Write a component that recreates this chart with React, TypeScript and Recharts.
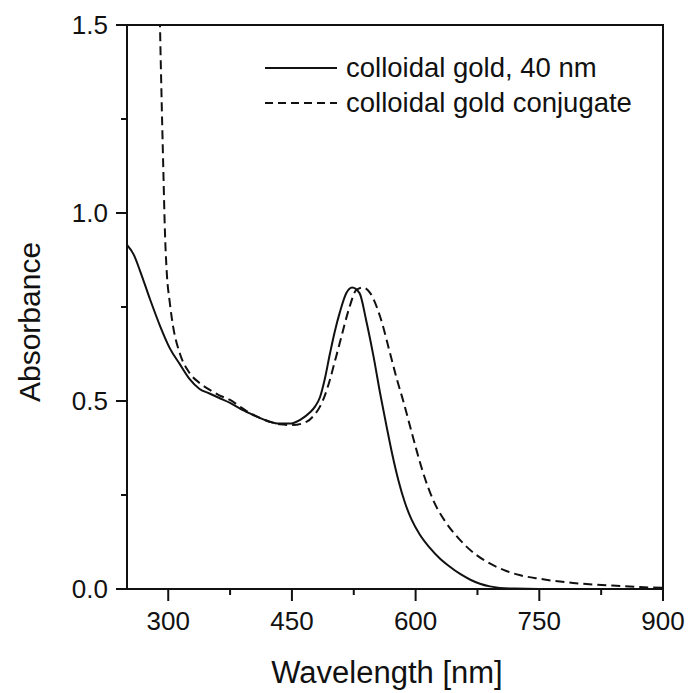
import { LineChart, Line, XAxis, YAxis, Legend, ReferenceArea } from 'recharts';

// colloidal gold, 40 nm (solid)
const solidWavelength = [250, 258, 266, 278, 290, 302, 314, 326, 338, 350, 362, 375, 387, 399, 411, 423, 435, 447, 460, 472, 478, 484, 490, 496, 502, 508, 516, 523, 532, 540, 549, 557, 565, 572, 579, 587, 595, 605, 617, 630, 640, 654, 667, 678, 690, 702, 720, 750, 800, 900];
const solidAbsorbance = [0.915, 0.89, 0.845, 0.77, 0.7, 0.64, 0.598, 0.558, 0.532, 0.52, 0.508, 0.495, 0.48, 0.467, 0.455, 0.445, 0.44, 0.44, 0.45, 0.47, 0.485, 0.51, 0.56, 0.625, 0.685, 0.735, 0.787, 0.802, 0.787, 0.715, 0.618, 0.52, 0.43, 0.355, 0.29, 0.23, 0.185, 0.145, 0.11, 0.08, 0.062, 0.04, 0.024, 0.014, 0.007, 0.003, 0.001, 0, 0, 0];

// colloidal gold conjugate (dashed)
const conjWavelength = [284, 288, 290, 292, 294, 296, 298, 302, 306, 314, 326, 338, 350, 362, 375, 387, 399, 411, 423, 435, 451, 468, 476, 484, 490, 496, 502, 508, 514, 520, 528, 536, 545, 557, 569, 577, 585, 593, 601, 609, 621, 637, 650, 662, 674, 690, 710, 726, 751, 791, 832, 872, 900];
const conjAbsorbance = [2.3, 1.75, 1.5, 1.3, 1.12, 0.95, 0.85, 0.76, 0.697, 0.627, 0.574, 0.548, 0.53, 0.515, 0.503, 0.485, 0.468, 0.455, 0.445, 0.438, 0.436, 0.445, 0.46, 0.485, 0.515, 0.556, 0.605, 0.654, 0.705, 0.751, 0.795, 0.802, 0.787, 0.724, 0.627, 0.56, 0.5, 0.435, 0.37, 0.31, 0.238, 0.176, 0.14, 0.112, 0.09, 0.068, 0.048, 0.037, 0.027, 0.016, 0.01, 0.005, 0.003];

const seriesNames = ['colloidal gold, 40 nm', 'colloidal gold conjugate'];
const xTicks = [300, 375, 450, 525, 600, 675, 750, 825, 900];
const yTicks = [0, 0.25, 0.5, 0.75, 1.0, 1.25, 1.5];

const solidData = solidWavelength.map((wl, i) => ({ wl, abs: solidAbsorbance[i] }));
const conjData = conjWavelength.map((wl, i) => ({ wl, abs: conjAbsorbance[i] }));

const font = '"Liberation Sans", Arial, Helvetica, sans-serif';
const ink = '#111';
const dash = '9 5';

function XTick({ x, y, payload }: any) {
  const major = payload.value % 150 === 0;
  return (
    <g>
      <line x1={x} y1={y} x2={x} y2={y + (major ? 12 : 6)} stroke={ink} strokeWidth={2} />
      {major && (
        <text x={x} y={y + 41} textAnchor="middle" fontSize={26} fontFamily={font} fill={ink}>
          {payload.value}
        </text>
      )}
    </g>
  );
}

function YTick({ x, y, payload }: any) {
  const v = payload.value;
  const major = Math.abs(v * 2 - Math.round(v * 2)) < 1e-6;
  return (
    <g>
      <line x1={x} y1={y} x2={x - (major ? 11 : 6)} y2={y} stroke={ink} strokeWidth={2} />
      {major && (
        <text x={x - 19} y={y} dy="0.35em" textAnchor="end" fontSize={26} fontFamily={font} fill={ink}>
          {v.toFixed(1)}
        </text>
      )}
    </g>
  );
}

function LegendBox() {
  return (
    <svg width={420} height={90} style={{ display: 'block' }}>
      <line x1={5} y1={28} x2={77} y2={28} stroke={ink} strokeWidth={2} />
      <text x={86} y={37} fontSize={27.5} fontFamily={font} fill={ink}>{seriesNames[0]}</text>
      <line x1={5} y1={63} x2={77} y2={63} stroke={ink} strokeWidth={2} strokeDasharray="8 5" />
      <text x={86} y={72} fontSize={27.5} fontFamily={font} fill={ink}>{seriesNames[1]}</text>
    </svg>
  );
}

export default function App() {
  return (
    <div style={{ position: 'absolute', left: 0, top: 0, background: '#fff' }}>
      <LineChart width={691} height={693} margin={{ top: 25, right: 28, bottom: 0, left: 0 }}>
        <XAxis
          dataKey="wl"
          type="number"
          domain={[250, 900]}
          ticks={xTicks}
          interval={0}
          allowDataOverflow
          height={104}
          tickSize={0}
          tickMargin={0}
          tickLine={false}
          axisLine={{ stroke: ink, strokeWidth: 2 }}
          tick={<XTick />}
          label={({ viewBox }: any) => (
            <text
              x={viewBox.x + viewBox.width / 2 - 8}
              y={683}
              textAnchor="middle"
              fontSize={31}
              fontFamily={font}
              fill={ink}
            >
              Wavelength [nm]
            </text>
          )}
        />
        <YAxis
          type="number"
          domain={[0, 1.5]}
          ticks={yTicks}
          interval={0}
          allowDataOverflow
          width={127}
          tickSize={0}
          tickMargin={0}
          tickLine={false}
          axisLine={{ stroke: ink, strokeWidth: 2 }}
          tick={<YTick />}
          label={() => (
            <text
              x={40}
              y={322}
              transform="rotate(-90, 40, 322)"
              textAnchor="middle"
              fontSize={30}
              fontFamily={font}
              fill={ink}
            >
              Absorbance
            </text>
          )}
        />
        <ReferenceArea x1={250} x2={900} y1={0} y2={1.5} fill="none" stroke={ink} strokeWidth={2} />
        <Line
          data={solidData}
          dataKey="abs"
          name={seriesNames[0]}
          type="monotone"
          stroke={ink}
          strokeWidth={2}
          dot={false}
          isAnimationActive={false}
        />
        <Line
          data={conjData}
          dataKey="abs"
          name={seriesNames[1]}
          type="monotone"
          stroke={ink}
          strokeWidth={2}
          strokeDasharray={dash}
          dot={false}
          isAnimationActive={false}
        />
        <Legend
          layout="vertical"
          align="center"
          verticalAlign="middle"
          wrapperStyle={{ position: 'absolute', left: 260, top: 40, width: 420 }}
          content={() => <LegendBox />}
        />
      </LineChart>
    </div>
  );
}
